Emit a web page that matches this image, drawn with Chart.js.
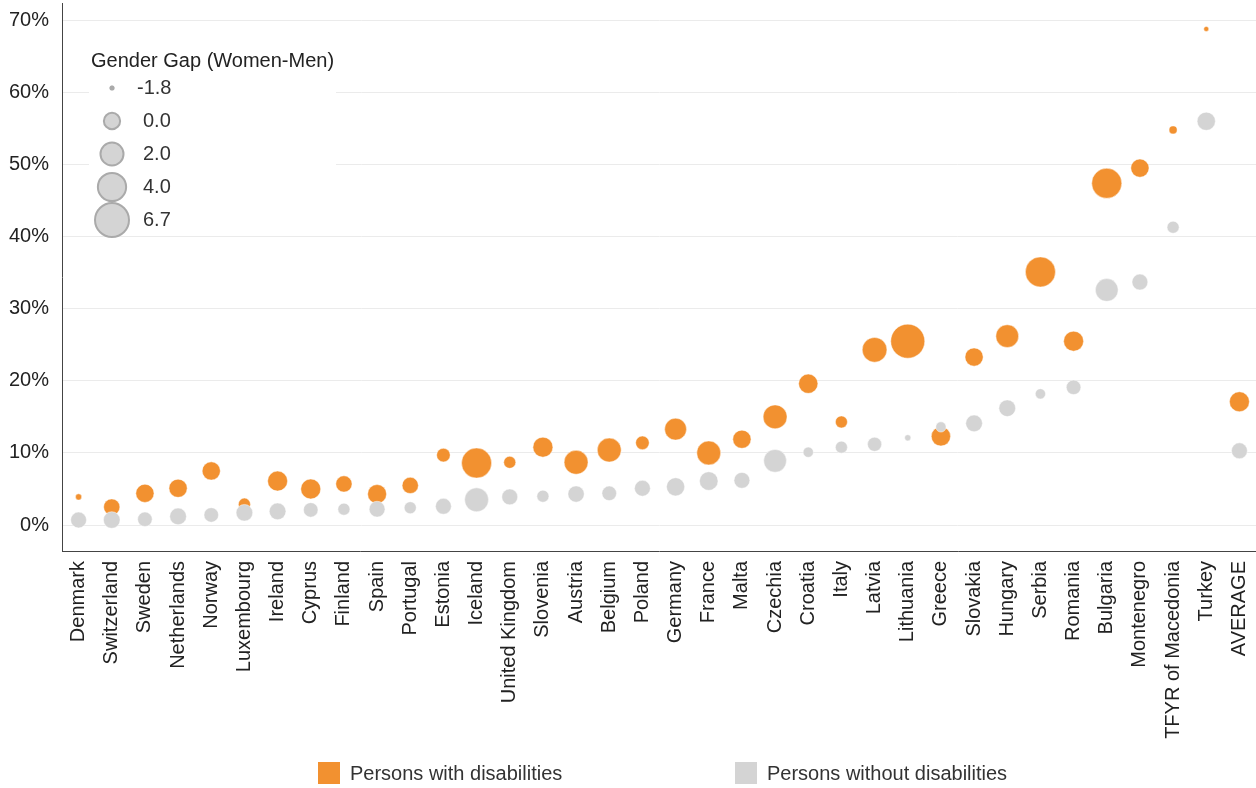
<!DOCTYPE html>
<html lang="en">
<head>
<meta charset="UTF-8">
<title>Gender gap by disability</title>
<script src="https://cdn.jsdelivr.net/npm/chart.js@4.4.0/dist/chart.umd.min.js"></script>
<style>
  body { margin: 0; background: #fff; font-family: "Liberation Sans", Arial, sans-serif; }
  .wrap { position: relative; width: 1256px; height: 788px; }
  .key { position: absolute; top: 762px; height: 22px; line-height: 22px; font-size: 20px; color: #333; }
  .key span { position: absolute; top: 0; left: 0; width: 22px; height: 22px; }
  .key b { font-weight: normal; position: absolute; left: 32px; white-space: nowrap; }
</style>
</head>
<body>
<div class="wrap">
  <canvas id="chart" width="1256" height="788"></canvas>
  <div class="key" style="left:318px"><span style="background:#f29130"></span><b>Persons with disabilities</b></div>
  <div class="key" style="left:735px"><span style="background:#d4d4d4"></span><b>Persons without disabilities</b></div>
</div>
<script>
var countries = ['Denmark', 'Switzerland', 'Sweden', 'Netherlands', 'Norway', 'Luxembourg', 'Ireland',
  'Cyprus', 'Finland', 'Spain', 'Portugal', 'Estonia', 'Iceland', 'United Kingdom', 'Slovenia', 'Austria',
  'Belgium', 'Poland', 'Germany', 'France', 'Malta', 'Czechia', 'Croatia', 'Italy', 'Latvia', 'Lithuania',
  'Greece', 'Slovakia', 'Hungary', 'Serbia', 'Romania', 'Bulgaria', 'Montenegro', 'TFYR of Macedonia',
  'Turkey', 'AVERAGE'];

// rate (%) for persons with / without disabilities
var withDis = [3.9, 2.5, 4.4, 5.1, 7.5, 2.9, 6.1, 5.0, 5.7, 4.3, 5.5, 9.7, 8.6, 8.7, 10.8, 8.7,
  10.4, 11.4, 13.3, 10.0, 11.9, 15.0, 19.6, 14.3, 24.3, 25.5, 12.3, 23.3, 26.2, 35.1, 25.5, 47.4,
  49.5, 54.8, 68.8, 17.1];
var withoutDis = [0.7, 0.7, 0.8, 1.2, 1.4, 1.7, 1.9, 2.1, 2.2, 2.2, 2.4, 2.6, 3.5, 3.9, 4.0, 4.3,
  4.4, 5.1, 5.3, 6.1, 6.2, 8.9, 10.1, 10.8, 11.2, 12.1, 13.6, 14.1, 16.2, 18.2, 19.1, 32.6,
  33.7, 41.3, 56.0, 10.3];

// gender gap (women-men), shown as bubble size
var gapWith = [-1.7, 0.0, 0.5, 0.5, 0.5, -0.9, 1.0, 1.0, 0.0, 0.7, 0.0, -0.6, 4.8, -0.9, 1.0, 2.3,
  2.3, -0.6, 1.6, 2.3, 0.5, 2.3, 0.8, -0.9, 2.6, 6.7, 0.8, 0.5, 1.9, 4.8, 1.0, 4.8,
  0.5, -1.5, -1.8, 1.0];
var gapWithout = [-0.1, 0.1, -0.4, 0.1, -0.4, 0.1, 0.1, -0.4, -0.9, -0.1, -0.9, -0.1, 2.3, -0.1, -0.9, 0.0,
  -0.4, -0.1, 0.5, 0.6, -0.1, 1.9, -1.2, -0.9, -0.5, -1.7, -1.2, 0.1, 0.1, -1.2, -0.4, 1.9,
  -0.1, -0.9, 0.5, -0.1];

var yTicks = [0, 10, 20, 30, 40, 50, 60, 70];
var sizeKey = [-1.8, 0.0, 2.0, 4.0, 6.7];

var gapMin = -1.8, gapMax = 6.7, rMin = 2.5, rMax = 17;
function radius(g) {
  var t = (g - gapMin) / (gapMax - gapMin);
  return Math.sqrt(rMin * rMin + t * (rMax * rMax - rMin * rMin));
}

function points(vals, gaps) {
  return countries.map(function (c, i) { return { x: c, y: vals[i], r: radius(gaps[i]) }; });
}

var FONT = '"Liberation Sans", Arial, sans-serif';

// bubble size key in the top left corner
var sizeLegend = {
  id: 'sizeLegend',
  afterDraw: function (chart) {
    var ctx = chart.ctx;
    ctx.save();
    ctx.fillStyle = '#fff';
    ctx.fillRect(89, 40, 247, 196);
    ctx.font = '20px ' + FONT;
    ctx.fillStyle = '#222';
    ctx.textBaseline = 'middle';
    ctx.fillText('Gender Gap (Women-Men)', 91, 61);
    sizeKey.forEach(function (g, i) {
      var y = 88 + i * 33;
      var r = radius(g);
      ctx.beginPath();
      ctx.arc(112, y, r, 0, Math.PI * 2);
      ctx.fillStyle = '#d4d4d4';
      ctx.fill();
      if (g > gapMin) {
        ctx.lineWidth = 2;
        ctx.strokeStyle = '#aaa';
        ctx.stroke();
      } else {
        ctx.fillStyle = '#aaa';
        ctx.fill();
      }
      ctx.fillStyle = '#333';
      ctx.fillText(g.toFixed(1), g < 0 ? 137 : 143, y);
    });
    ctx.restore();
  }
};

new Chart(document.getElementById('chart'), {
  type: 'bubble',
  data: {
    datasets: [
      { label: 'Persons with disabilities', data: points(withDis, gapWith), order: 1,
        backgroundColor: '#f29130', borderColor: 'rgba(255,255,255,0.45)', borderWidth: 1 },
      { label: 'Persons without disabilities', data: points(withoutDis, gapWithout), order: 0,
        backgroundColor: '#d4d4d4', borderColor: 'rgba(255,255,255,0.45)', borderWidth: 1 }
    ]
  },
  options: {
    responsive: false,
    animation: false,
    clip: false,
    layout: { autoPadding: false, padding: { top: 3, right: 0, bottom: 47, left: 0 } },
    plugins: { legend: { display: false }, tooltip: { enabled: false } },
    scales: {
      x: {
        type: 'category',
        labels: countries,
        offset: true,
        grid: { display: false, drawTicks: false },
        border: { color: '#444', width: 1 },
        ticks: { autoSkip: false, minRotation: 90, maxRotation: 90, padding: 10, color: '#222',
          font: { family: FONT, size: 20 } },
        afterFit: function (s) { s.height = 190; s.paddingLeft = 0; s.paddingRight = 0; }
      },
      y: {
        min: -3.6,
        max: 72.4,
        afterBuildTicks: function (s) { s.ticks = yTicks.map(function (v) { return { value: v }; }); },
        afterFit: function (s) { s.width = 62; s.paddingTop = 0; s.paddingBottom = 0; },
        grid: { color: '#ebebeb', drawTicks: false },
        border: { color: '#444', width: 1 },
        ticks: { padding: 13, color: '#222', font: { family: FONT, size: 20 },
          callback: function (v) { return v + '%'; } }
      }
    }
  },
  plugins: [sizeLegend]
});
</script>
</body>
</html>
